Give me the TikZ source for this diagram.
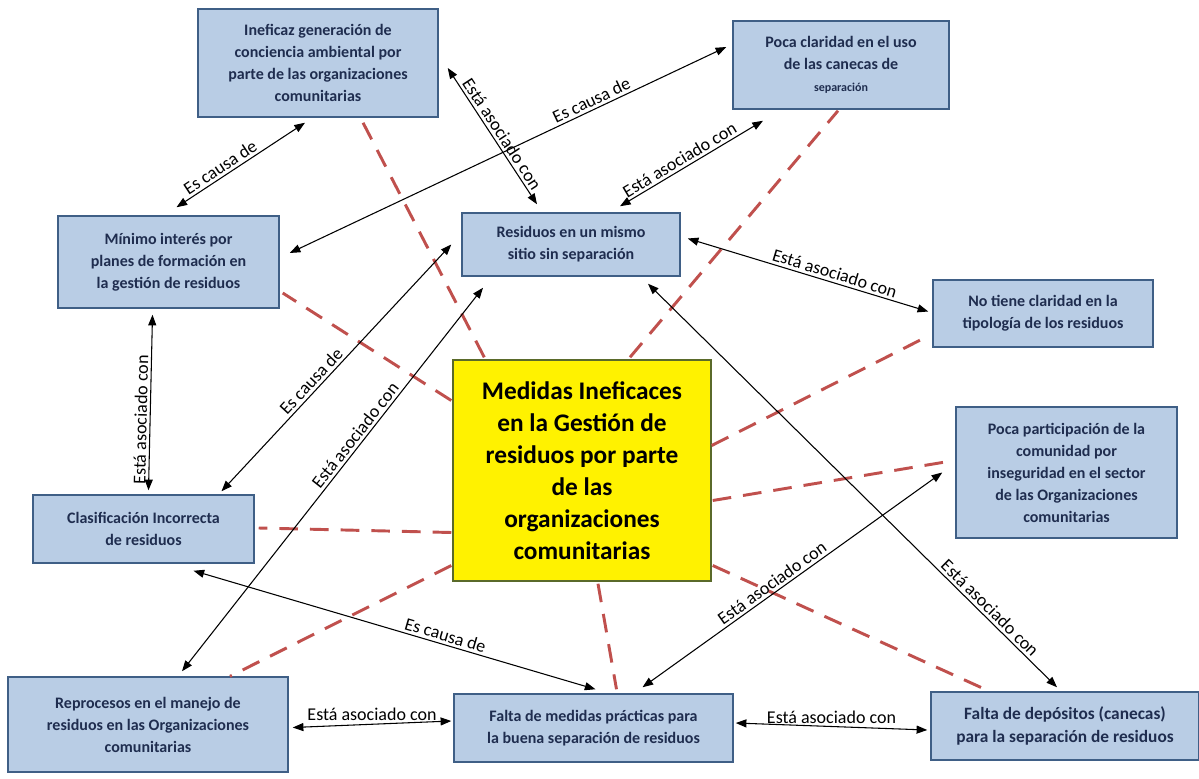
\documentclass[tikz,border=0pt]{standalone}
\usepackage{fontspec}
\setmainfont{Carlito}
\usetikzlibrary{arrows.meta,calc}
\definecolor{boxfill}{HTML}{B9CDE5}
\definecolor{boxdraw}{HTML}{3F5F86}
\definecolor{boxtext}{HTML}{1F2D4F}
\definecolor{dashred}{HTML}{C0504D}
\definecolor{hubdraw}{HTML}{5A6A2A}
\tikzset{
 box/.style={draw=boxdraw, line width=1.1pt, fill=boxfill, inner sep=0pt, align=center, text=boxtext, font=\bfseries\fontsize{12}{16.5}\selectfont},
 hub/.style={draw=hubdraw, line width=1.1pt, fill=yellow, inner sep=0pt, align=center, font=\bfseries\fontsize{19}{24}\selectfont},
 link/.style={line width=0.8pt, {Triangle[length=8pt,width=6pt]}-{Triangle[length=8pt,width=6pt]}},
 reddash/.style={draw=dashred, line width=2.2pt, dash pattern=on 14pt off 9pt},
 lbl/.style={font=\fontsize{13.5}{16}\selectfont, inner sep=2pt},
}
\begin{document}
\begin{tikzpicture}[x=0.75pt,y=-0.75pt]
\useasboundingbox[fill=white] (0,0) rectangle (1199,778);

\node[box, minimum width=180pt, minimum height=81pt] (A) at (318,63) {Ineficaz generación de\\conciencia ambiental por\\parte de las organizaciones\\comunitarias};
\node[box, minimum width=162pt, minimum height=66pt] (B) at (841,65) {Poca claridad en el uso\\de las canecas de\\{\fontsize{9}{12}\selectfont separación}};
\node[box, minimum width=165.75pt, minimum height=69pt] (C) at (168.5,262) {Mínimo interés por\\planes de formación en\\la gestión de residuos};
\node[box, minimum width=163.5pt, minimum height=47.25pt] (D) at (571,244.5) {Residuos en un mismo\\sitio sin separación};
\node[box, minimum width=165pt, minimum height=50.25pt] (E) at (1043,313.5) {No tiene claridad en la\\tipología de los residuos};
\node[box, minimum width=165.75pt, minimum height=98.25pt] (F) at (1066.5,472.5) {Poca participación de la\\comunidad por\\inseguridad en el sector\\de las Organizaciones\\comunitarias};
\node[box, minimum width=165.75pt, minimum height=51pt] (G) at (143.5,529) {Clasificación Incorrecta\\de residuos};
\node[hub, minimum width=193.5pt, minimum height=165.75pt] (H) at (582,470.5) {Medidas Ineficaces\\en la Gestión de\\residuos por parte\\de las\\organizaciones\\comunitarias};
\node[box, minimum width=210pt, minimum height=71.25pt] (I) at (148,724.5) {Reprocesos en el manejo de\\residuos en las Organizaciones\\comunitarias};
\node[box, minimum width=209.25pt, minimum height=51pt] (J) at (593.5,728) {Falta de medidas prácticas para\\la buena separación de residuos};
\node[box, minimum width=201pt, minimum height=51pt, font=\bfseries\fontsize{13}{17}\selectfont] (K) at (1065,726) {Falta de depósitos (canecas)\\para la separación de residuos};

% red dashed relations from the hub
\draw[reddash] ($(H.north west)+(32,-2)$) -- ($(A.south)+(44,3)$);
\draw[reddash] ($(H.north)+(48,-2)$) -- ($(B.south)+(-3,1)$);
\draw[reddash] ($(H.west)+(-1,-70)$) -- ($(C.east)+(3,31)$);
\draw[reddash] ($(H.east)+(0,-25)$) -- ($(E.west)+(-3,22)$);
\draw[reddash] ($(H.east)+(1,30)$) -- ($(F.west)+(-1,-12)$);
\draw[reddash] ($(H.west)+(-1,62)$) -- ($(G.east)+(4,-1)$);
\draw[reddash] ($(H.west)+(-1,95)$) -- ($(I.north)+(82,0)$);
\draw[reddash] ($(H.south)+(16,2)$) -- ($(J.north)+(23,-4)$);
\draw[reddash] ($(H.east)+(1,95)$) -- ($(K.north)+(-80,-2)$);

% black connectors
\draw[link] ($(C.north)+(8,-8)$) -- node[lbl, sloped, above, pos=0.38] {Es causa de} ($(A.south)+(-13,5)$);
\draw[link] ($(A.east)+(9,5)$) -- node[lbl, sloped, above, pos=0.52] {Está asociado con} ($(D.north)+(-34,-8)$);
\draw[link] ($(C.east)+(10,-9)$) -- node[lbl, sloped, above, pos=0.7] {Es causa de} ($(B.west)+(-6,-18)$);
\draw[link] ($(D.north)+(49,-6)$) -- node[lbl, sloped, above, pos=0.45] {Está asociado con} ($(B.south)+(-78,11)$);
\draw[link] ($(D.east)+(7,-6)$) -- node[lbl, sloped, above, pos=0.6] {Está asociado con} ($(E.west)+(-4,-2)$);
\draw[link] ($(G.north)+(5,-4)$) -- node[lbl, sloped, above, pos=0.4] {Está asociado con} ($(C.south)+(-16,6)$);
\draw[link] ($(G.north)+(78,-3)$) -- node[lbl, sloped, above, pos=0.42] {Es causa de} ($(D.west)+(-10,0)$);
\draw[link] ($(I.north)+(34,-5)$) -- node[lbl, sloped, above, pos=0.6] {Está asociado con} ($(D.south)+(-88,11)$);
\draw[link] ($(G.south)+(50,7)$) -- node[lbl, sloped, above, pos=0.62] {Es causa de} ($(J.north)+(2,-4)$);
\draw[link] ($(J.north)+(49,-6)$) -- node[lbl, sloped, above, pos=0.45] {Está asociado con} ($(F.west)+(-13,0)$);
\draw[link] ($(D.south)+(77,7)$) -- node[lbl, sloped, above, pos=0.82] {Está asociado con} ($(K.north)+(-8,-4)$);
\draw[link] ($(I.east)+(4,3)$) -- node[lbl, above, pos=0.5] {Está asociado con} ($(J.west)+(-2,-7)$);
\draw[link] ($(J.east)+(2,-5)$) -- node[lbl, above, pos=0.5] {Está asociado con} ($(K.west)+(-3,4)$);
\end{tikzpicture}
\end{document}
